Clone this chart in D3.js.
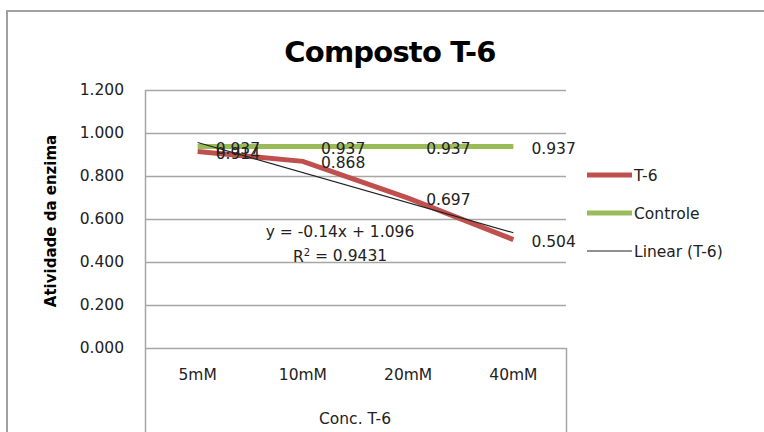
<!DOCTYPE html>
<html><head><meta charset="utf-8">
<script src="https://cdn.jsdelivr.net/npm/d3@7"></script>
<style>
html,body{margin:0;padding:0;background:#fff;}
svg{display:block;font-family:"DejaVu Sans",sans-serif;}
</style></head>
<body>
<svg id="chart" width="764" height="432"></svg>
<script>
const categories = ["5mM", "10mM", "20mM", "40mM"];
const t6Values = [0.914, 0.868, 0.697, 0.504];
const controleValues = [0.937, 0.937, 0.937, 0.937];
const trendSlope = -0.14, trendIntercept = 1.096, trendR2 = 0.9431;
const yTicks = [0, 0.2, 0.4, 0.6, 0.8, 1.0, 1.2];

(function () {
const svg = d3.select("#chart");
const pL = 145, pR = 566, pT = 90, pB = 348;

// outer chart border
svg.append("path").attr("d", "M7,440 V11 H780").attr("fill", "none")
  .attr("stroke", "#a0a0a0").attr("stroke-width", 2);

const x = d3.scaleBand().domain(categories).range([pL, pR]);
const y = d3.scaleLinear().domain([0, 1.2]).range([pB, pT]);
const cx = c => x(c) + x.bandwidth() / 2;

// gridlines
svg.append("g").selectAll("line").data(yTicks).join("line")
  .attr("x1", pL).attr("x2", pR)
  .attr("y1", d => Math.round(y(d)) + 0.5).attr("y2", d => Math.round(y(d)) + 0.5)
  .attr("stroke", "#a6a6a6").attr("stroke-width", 1.5);
// plot borders
svg.append("line").attr("x1", pL + 0.5).attr("x2", pL + 0.5).attr("y1", pT).attr("y2", 432)
  .attr("stroke", "#a6a6a6").attr("stroke-width", 1.5);
svg.append("line").attr("x1", pR + 0.5).attr("x2", pR + 0.5).attr("y1", pB).attr("y2", 432)
  .attr("stroke", "#a6a6a6").attr("stroke-width", 1.5);

// y axis labels
const yAxis = d3.axisLeft(y).tickValues(yTicks).tickFormat(d3.format(".3f")).tickSize(0).tickPadding(21);
const ya = svg.append("g").attr("transform", `translate(${pL},0)`).call(yAxis);
ya.select(".domain").remove();
ya.selectAll("text").attr("font-family", "DejaVu Sans").attr("font-size", 15.5).attr("fill", "#222");

// x axis labels
const xAxis = d3.axisBottom(x).tickSize(0).tickPadding(21);
const xa = svg.append("g").attr("transform", `translate(0,${pB})`).call(xAxis);
xa.select(".domain").remove();
xa.selectAll("text").attr("font-family", "DejaVu Sans").attr("font-size", 15.5).attr("fill", "#222");

// lines
const line = d3.line().x((d, i) => cx(categories[i])).y(d => y(d));
svg.append("path").datum(controleValues).attr("d", line).attr("fill", "none")
  .attr("stroke", "#9bbb59").attr("stroke-width", 5);
svg.append("path").datum(t6Values).attr("d", line).attr("fill", "none")
  .attr("stroke", "#c0504d").attr("stroke-width", 5);
const trendValues = categories.map((c, i) => trendSlope * (i + 1) + trendIntercept);
svg.append("line")
  .attr("x1", cx(categories[0])).attr("y1", y(trendValues[0]))
  .attr("x2", cx(categories[3])).attr("y2", y(trendValues[3]))
  .attr("stroke", "#222").attr("stroke-width", 1.2);

// data labels
const lbl = (vals) => svg.append("g").selectAll("text").data(vals).join("text")
  .attr("x", (d, i) => cx(categories[i]) + 18)
  .attr("y", d => y(d) + 1.5)
  .attr("dy", "0.36em")
  .attr("font-size", 15.5).attr("fill", "#222")
  .text(d => d3.format(".3f")(d));
lbl(controleValues);
lbl(t6Values);

// trend equation
svg.append("text").attr("x", 340).attr("y", 231).attr("dy", "0.36em").attr("text-anchor", "middle")
  .attr("font-size", 15.5).attr("fill", "#222")
  .text(`y = ${trendSlope}x + ${trendIntercept}`);
const r2 = svg.append("text").attr("x", 340).attr("y", 256).attr("dy", "0.36em").attr("text-anchor", "middle")
  .attr("font-size", 15.5).attr("fill", "#222");
r2.append("tspan").text("R");
r2.append("tspan").attr("font-size", 10).attr("dy", "-0.6em").text("2");
r2.append("tspan").attr("dy", "0.35em").text(` = ${trendR2}`);

// title
svg.append("text").attr("x", 390).attr("y", 62).attr("text-anchor", "middle")
  .attr("font-size", 29).attr("font-weight", "bold").attr("letter-spacing", -0.8).attr("fill", "#000")
  .text("Composto T-6");

// axis titles
svg.append("text").attr("transform", "translate(56,221) rotate(-90)").attr("text-anchor", "middle")
  .attr("font-size", 15).attr("font-weight", "bold").attr("fill", "#000")
  .text("Atividade da enzima");
svg.append("text").attr("x", 355).attr("y", 418).attr("dy", "0.36em").attr("text-anchor", "middle")
  .attr("font-size", 15.5).attr("fill", "#222").text("Conc. T-6");

// legend
const legend = [
  {name: "T-6", color: "#c0504d", w: 5, y: 175},
  {name: "Controle", color: "#9bbb59", w: 5, y: 213},
  {name: "Linear (T-6)", color: "#222", w: 1.2, y: 251}
];
const lg = svg.append("g").selectAll("g").data(legend).join("g");
lg.append("line").attr("x1", 587).attr("x2", 632).attr("y1", d => d.y).attr("y2", d => d.y)
  .attr("stroke", d => d.color).attr("stroke-width", d => d.w);
lg.append("text").attr("x", 634).attr("y", d => d.y).attr("dy", "0.36em")
  .attr("font-size", 15.5).attr("fill", "#222").text(d => d.name);
})();
</script>
</body></html>
